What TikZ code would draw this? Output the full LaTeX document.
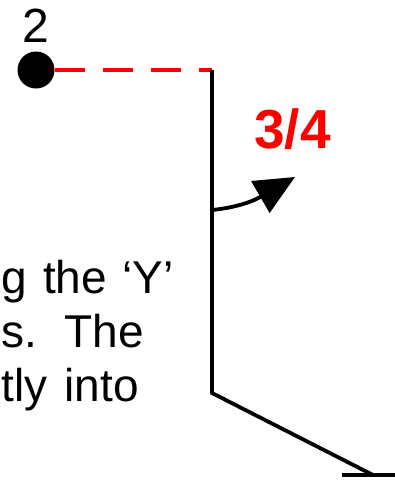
\documentclass[tikz,border=0pt]{standalone}
\usepackage{fontspec}
\setmainfont{Liberation Sans}
\usepackage{xcolor}
\usetikzlibrary{arrows.meta, positioning}

\begin{document}
\begin{tikzpicture}[
      x=1pt, y=-1pt,
      dot/.style = {circle, fill=black, minimum size=37pt, inner sep=0pt},
      numlbl/.style = {inner sep=0pt, font=\fontsize{48}{50}\selectfont},
      frac/.style = {inner sep=0pt, text=red, font=\bfseries\fontsize{55}{60}\selectfont},
      para/.style = {inner sep=0pt, anchor=base east, font=\fontsize{46}{54}\selectfont},
      wire/.style = {line width=3.8pt, black},
      hinge/.style = {line width=3.8pt, red, dash pattern=on 30pt off 18pt}
    ]
      \useasboundingbox (0,0) rectangle (395,480);
      \clip (0,0) rectangle (395,480);

      % point and its label
      \node[dot] (pt) at (36,70) {};
      \node[numlbl, above=9pt of pt] (two) {2};

      % outline
      \coordinate (top) at (212,70);
      \coordinate (knee) at (212,393);
      \coordinate (foot) at (373,475);
      \coordinate (footL) at (342,475);
      \coordinate (footR) at (400,475);
      \draw[hinge] (pt.east) -- (top);
      \draw[wire, line join=miter] (top) -- (knee) -- (foot);
      \draw[wire] (footL) -- (footR);

      % turn
      \node[frac, anchor=base west] (turn) at (254,148) {3/4};
      \coordinate (arrS) at (212,210);
      \coordinate (arrE) at (295,177);
      \draw[wire, -{Triangle[length=40pt, width=36pt]}]
        (arrS) .. controls (232,208) and (250,203) .. (arrE);

      % clipped paragraph
      \node[para] (ln1) at (174,293) {\makebox[172pt][s]{g the ‘Y’}};
      \node[para] (ln2) at (144,347) {\makebox[142pt][s]{s.\ \ The}};
      \node[para] (ln3) at (139,401) {\makebox[137pt][s]{tly into}};
    \end{tikzpicture}
\end{document}
